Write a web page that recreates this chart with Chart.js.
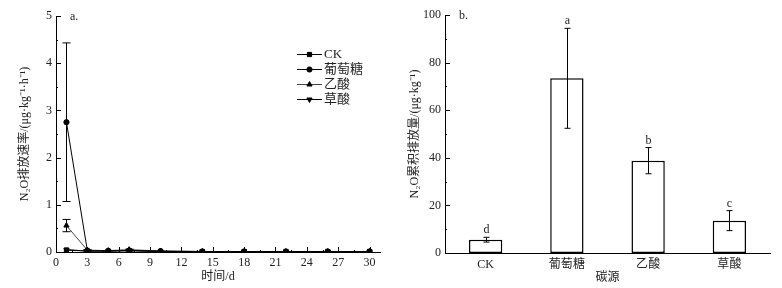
<!DOCTYPE html>
<html>
<head>
<meta charset="utf-8">
<script src="https://cdn.jsdelivr.net/npm/chart.js@4/dist/chart.umd.min.js"></script>
<style>
body { margin: 0; background: #fff; }
#wrap { display: flex; width: 782px; height: 288px; }
canvas { display: block; }
</style>
</head>
<body>
<div id="wrap">
  <canvas id="rate" width="400" height="288"></canvas>
  <canvas id="total" width="382" height="288"></canvas>
</div>
<script>
// panel a: N2O emission rate over time
const days = [1, 3, 5, 7, 10, 14, 18, 22, 26, 30];
const ckRate = [0.04, 0.02, 0.02, 0.03, 0.01, 0.01, 0.01, 0.01, 0.01, 0.01];
const glucoseRate = [2.75, 0.03, 0.02, 0.03, 0.02, 0.01, 0.01, 0.01, 0.01, 0.01];
const aceticRate = [0.56, 0.04, 0.03, 0.05, 0.02, 0.01, 0.01, 0.01, 0.01, 0.01];
const oxalicRate = [0.05, 0.02, 0.02, 0.03, 0.01, 0.01, 0.01, 0.01, 0.01, 0.01];
const glucoseErr = [1.68, 0.01, 0, 0.01, 0, 0, 0, 0, 0, 0];
const aceticErr = [0.13, 0.01, 0, 0.01, 0, 0, 0, 0, 0, 0];
const rateTicksX = [0, 3, 6, 9, 12, 15, 18, 21, 24, 27, 30];
const rateMinorX = [1.5, 4.5, 7.5, 10.5, 13.5, 16.5, 19.5, 22.5, 25.5, 28.5];
const rateTicksY = [0, 1, 2, 3, 4, 5];
const rateMinorY = [0.5, 1.5, 2.5, 3.5, 4.5];

// panel b: cumulative N2O emission per carbon source
const sources = ['CK', '葡萄糖', '乙酸', '草酸'];
const totalMean = [5.6, 73.4, 38.8, 13.6];
const totalErr = [1.0, 21.0, 5.5, 4.2];
const totalLetters = ['d', 'a', 'b', 'c'];
const totalTicksY = [0, 20, 40, 60, 80, 100];
const totalMinorY = [10, 30, 50, 70, 90];

const serif = "'Liberation Serif', 'Noto Sans CJK SC', serif";
const tickFont = { family: serif, size: 12 };
Chart.defaults.color = '#222';

// tick marks drawn inside the plot, like the origin figure
const innerTicks = {
    id: 'innerTicks',
    afterDraw(chart, args, opts) {
        const ctx = chart.ctx, area = chart.chartArea;
        ctx.save();
        ctx.strokeStyle = '#000';
        ctx.lineWidth = 1;
        (opts.marks || []).forEach(m => {
            const s = chart.scales[m.axis];
            m.values.forEach(v => {
                const p = Math.round(s.getPixelForValue(v)) + 0.5;
                ctx.beginPath();
                if (m.axis === 'x') {
                    ctx.moveTo(p, area.bottom);
                    ctx.lineTo(p, area.bottom - m.len);
                } else {
                    ctx.moveTo(area.left, p);
                    ctx.lineTo(area.left + m.len, p);
                }
                ctx.stroke();
            });
        });
        if (opts.tag) {
            ctx.fillStyle = '#222';
            ctx.font = '12px ' + serif;
            ctx.textBaseline = 'middle';
            ctx.fillText(opts.tag, area.left + 14, area.top + 1);
        }
        ctx.restore();
    }
};

// vertical error bars with caps, from dataset.errors
const errorBars = {
    id: 'errorBars',
    afterDatasetsDraw(chart) {
        const ctx = chart.ctx;
        const ys = chart.scales.y;
        ctx.save();
        ctx.strokeStyle = '#000';
        ctx.lineWidth = 1;
        chart.data.datasets.forEach((ds, di) => {
            if (!ds.errors) return;
            const meta = chart.getDatasetMeta(di);
            meta.data.forEach((el, i) => {
                const e = ds.errors[i];
                if (!e) return;
                const v = ds.data[i];
                const val = typeof v === 'object' ? v.y : v;
                const x = Math.round(el.x) + 0.5;
                const top = ys.getPixelForValue(val + e);
                const bot = ys.getPixelForValue(val - e);
                const cap = ds.capWidth || 3;
                ctx.beginPath();
                ctx.moveTo(x, top); ctx.lineTo(x, bot);
                ctx.moveTo(x - cap, top); ctx.lineTo(x + cap, top);
                ctx.moveTo(x - cap, bot); ctx.lineTo(x + cap, bot);
                ctx.stroke();
                if (ds.letters) {
                    ctx.fillStyle = '#222';
                    ctx.font = '12px ' + serif;
                    ctx.textAlign = 'center';
                    ctx.textBaseline = 'bottom';
                    ctx.fillText(ds.letters[i], x, top - 1);
                }
            });
        });
        ctx.restore();
    }
};

// legend inside panel a: short line with marker, then name
const lineLegend = {
    id: 'lineLegend',
    afterDraw(chart, args, opts) {
        const ctx = chart.ctx;
        ctx.save();
        chart.data.datasets.forEach((ds, i) => {
            const y = opts.y + i * opts.step;
            ctx.strokeStyle = ds.borderColor;
            ctx.lineWidth = 1;
            ctx.beginPath();
            ctx.moveTo(opts.x, y + 0.5);
            ctx.lineTo(opts.x + 25, y + 0.5);
            ctx.stroke();
            ctx.fillStyle = '#000';
            ctx.strokeStyle = '#000';
            Chart.helpers.drawPoint(ctx, {
                pointStyle: ds.pointStyle,
                radius: ds.pointRadius,
                rotation: ds.pointRotation || 0,
                borderWidth: 1
            }, opts.x + 12.5, y + 0.5);
            ctx.fillStyle = '#222';
            ctx.font = '13px ' + serif;
            ctx.textBaseline = 'middle';
            ctx.fillText(ds.label, opts.x + 27, y + 1);
        });
        ctx.restore();
    }
};

function series(label, values, style, radius, color, errors, rotation) {
    return {
        label: label,
        data: days.map((d, i) => ({ x: d, y: values[i] })),
        errors: errors,
        borderColor: color,
        backgroundColor: '#000',
        pointBorderColor: '#000',
        borderWidth: 1,
        pointStyle: style,
        pointRotation: rotation || 0,
        pointRadius: radius,
        capWidth: 4
    };
}

const axisBase = {
    grid: { display: false, drawTicks: false },
    border: { display: true, color: '#000', width: 1 }
};

new Chart(document.getElementById('rate'), {
    type: 'line',
    data: {
        datasets: [
            series('CK', ckRate, 'rect', 3, '#000'),
            series('葡萄糖', glucoseRate, 'circle', 2.6, '#000', glucoseErr),
            series('乙酸', aceticRate, 'triangle', 3, '#444', aceticErr),
            series('草酸', oxalicRate, 'triangle', 3, '#000', null, 180)
        ]
    },
    options: {
        responsive: false,
        animation: false,
        layout: { padding: { top: 16, right: 20, left: 0, bottom: 0 } },
        plugins: {
            legend: { display: false },
            tooltip: { enabled: false },
            innerTicks: {
                tag: 'a.',
                marks: [
                    { axis: 'x', values: rateTicksX, len: 5 },
                    { axis: 'x', values: rateMinorX, len: 2 },
                    { axis: 'y', values: rateTicksY, len: 5 },
                    { axis: 'y', values: rateMinorY, len: 2 }
                ]
            },
            lineLegend: { x: 297, y: 54, step: 15 }
        },
        scales: {
            x: {
                ...axisBase,
                type: 'linear',
                min: 0,
                max: 31,
                afterBuildTicks: s => { s.ticks = rateTicksX.map(v => ({ value: v })); },
                afterFit: s => { s.height = 36; },
                ticks: { font: tickFont, padding: 4, maxRotation: 0 },
                title: { display: true, text: '时间/d', font: tickFont, padding: { top: 0, bottom: 4 } }
            },
            y: {
                ...axisBase,
                min: 0,
                max: 5,
                afterBuildTicks: s => { s.ticks = rateTicksY.map(v => ({ value: v })); },
                afterFit: s => { s.width = 56; },
                ticks: { font: tickFont, padding: 4 },
                title: {
                    display: true,
                    text: 'N₂O排放速率/(μg·kg⁻¹·h⁻¹)',
                    font: tickFont,
                    padding: { top: 18, bottom: 0 }
                }
            }
        }
    },
    plugins: [innerTicks, errorBars, lineLegend]
});

new Chart(document.getElementById('total'), {
    type: 'bar',
    data: {
        labels: sources,
        datasets: [{
            data: totalMean,
            errors: totalErr,
            letters: totalLetters,
            backgroundColor: '#fff',
            borderColor: '#000',
            borderWidth: 1.5,
            borderSkipped: false,
            barPercentage: 0.41,
            categoryPercentage: 1,
            capWidth: 3
        }]
    },
    options: {
        responsive: false,
        animation: false,
        layout: { padding: { top: 15, right: 12, left: 0, bottom: 0 } },
        plugins: {
            legend: { display: false },
            tooltip: { enabled: false },
            innerTicks: {
                tag: 'b.',
                marks: [
                    { axis: 'y', values: totalTicksY, len: 5 },
                    { axis: 'y', values: totalMinorY, len: 2 }
                ]
            }
        },
        scales: {
            x: {
                ...axisBase,
                afterFit: s => { s.height = 35; },
                ticks: { font: tickFont, padding: 5 },
                title: { display: true, text: '碳源', font: tickFont, padding: { top: 0, bottom: 3 } }
            },
            y: {
                ...axisBase,
                min: 0,
                max: 100,
                afterBuildTicks: s => { s.ticks = totalTicksY.map(v => ({ value: v })); },
                afterFit: s => { s.width = 45; },
                ticks: { font: tickFont, padding: 4 },
                title: {
                    display: true,
                    text: 'N₂O累积排放量/(μg·kg⁻¹)',
                    font: tickFont,
                    padding: { top: 8, bottom: 0 }
                }
            }
        }
    },
    plugins: [innerTicks, errorBars]
});
</script>
</body>
</html>
